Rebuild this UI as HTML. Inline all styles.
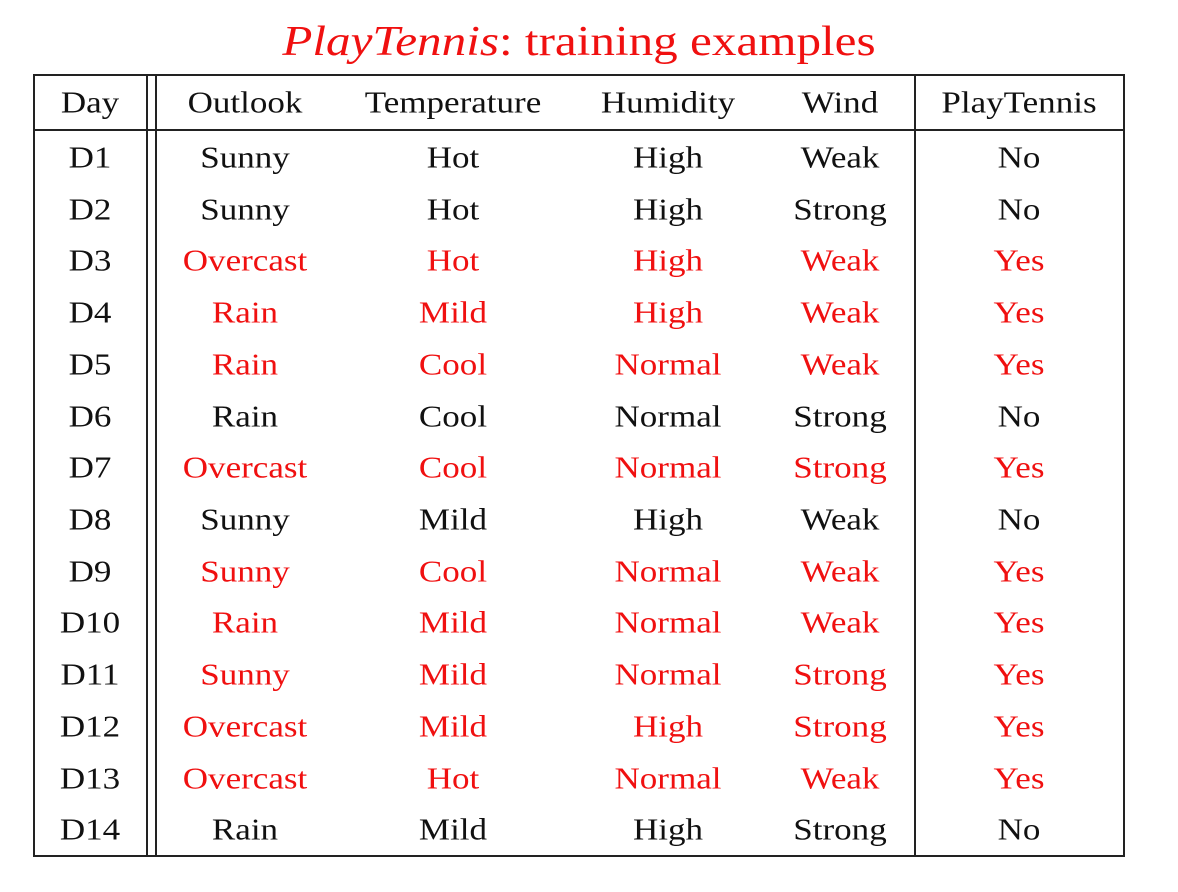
<!DOCTYPE html>
<html><head><meta charset="utf-8"><style>
body{margin:0;width:1178px;height:892px;background:#fff;position:relative;overflow:hidden;font-family:"Liberation Serif",serif;}
.l{position:absolute;background:#222;}
.t{position:absolute;transform:translate(-50%,-50%) scaleX(1.13);font-size:31px;white-space:nowrap;color:#111;line-height:1;}
.r{color:#f01010;}
</style></head><body>
<div class="t r" style="left:579px;top:42px;font-size:42px;transform:translate(-50%,-50%) scaleX(1.17);"><i>PlayTennis</i>: training examples</div>
<div class="l" style="left:33px;top:74px;width:1092px;height:2px"></div>
<div class="l" style="left:33px;top:129px;width:1092px;height:2px"></div>
<div class="l" style="left:33px;top:855px;width:1092px;height:2px"></div>
<div class="l" style="left:33px;top:74px;width:2px;height:783px"></div>
<div class="l" style="left:146px;top:74px;width:2px;height:783px"></div>
<div class="l" style="left:155px;top:74px;width:2px;height:783px"></div>
<div class="l" style="left:914px;top:74px;width:2px;height:783px"></div>
<div class="l" style="left:1123px;top:74px;width:2px;height:783px"></div>
<div class="t" style="left:90px;top:102px">Day</div>
<div class="t" style="left:245px;top:102px">Outlook</div>
<div class="t" style="left:453px;top:102px">Temperature</div>
<div class="t" style="left:668px;top:102px">Humidity</div>
<div class="t" style="left:840px;top:102px">Wind</div>
<div class="t" style="left:1019px;top:102px">PlayTennis</div>

<div class="t" style="left:90px;top:157px">D1</div><div class="t" style="left:245px;top:157px">Sunny</div><div class="t" style="left:453px;top:157px">Hot</div><div class="t" style="left:668px;top:157px">High</div><div class="t" style="left:840px;top:157px">Weak</div><div class="t" style="left:1019px;top:157px">No</div>
<div class="t" style="left:90px;top:209px">D2</div><div class="t" style="left:245px;top:209px">Sunny</div><div class="t" style="left:453px;top:209px">Hot</div><div class="t" style="left:668px;top:209px">High</div><div class="t" style="left:840px;top:209px">Strong</div><div class="t" style="left:1019px;top:209px">No</div>
<div class="t" style="left:90px;top:260px">D3</div><div class="t r" style="left:245px;top:260px">Overcast</div><div class="t r" style="left:453px;top:260px">Hot</div><div class="t r" style="left:668px;top:260px">High</div><div class="t r" style="left:840px;top:260px">Weak</div><div class="t r" style="left:1019px;top:260px">Yes</div>
<div class="t" style="left:90px;top:312px">D4</div><div class="t r" style="left:245px;top:312px">Rain</div><div class="t r" style="left:453px;top:312px">Mild</div><div class="t r" style="left:668px;top:312px">High</div><div class="t r" style="left:840px;top:312px">Weak</div><div class="t r" style="left:1019px;top:312px">Yes</div>
<div class="t" style="left:90px;top:364px">D5</div><div class="t r" style="left:245px;top:364px">Rain</div><div class="t r" style="left:453px;top:364px">Cool</div><div class="t r" style="left:668px;top:364px">Normal</div><div class="t r" style="left:840px;top:364px">Weak</div><div class="t r" style="left:1019px;top:364px">Yes</div>
<div class="t" style="left:90px;top:416px">D6</div><div class="t" style="left:245px;top:416px">Rain</div><div class="t" style="left:453px;top:416px">Cool</div><div class="t" style="left:668px;top:416px">Normal</div><div class="t" style="left:840px;top:416px">Strong</div><div class="t" style="left:1019px;top:416px">No</div>
<div class="t" style="left:90px;top:467px">D7</div><div class="t r" style="left:245px;top:467px">Overcast</div><div class="t r" style="left:453px;top:467px">Cool</div><div class="t r" style="left:668px;top:467px">Normal</div><div class="t r" style="left:840px;top:467px">Strong</div><div class="t r" style="left:1019px;top:467px">Yes</div>
<div class="t" style="left:90px;top:519px">D8</div><div class="t" style="left:245px;top:519px">Sunny</div><div class="t" style="left:453px;top:519px">Mild</div><div class="t" style="left:668px;top:519px">High</div><div class="t" style="left:840px;top:519px">Weak</div><div class="t" style="left:1019px;top:519px">No</div>
<div class="t" style="left:90px;top:571px">D9</div><div class="t r" style="left:245px;top:571px">Sunny</div><div class="t r" style="left:453px;top:571px">Cool</div><div class="t r" style="left:668px;top:571px">Normal</div><div class="t r" style="left:840px;top:571px">Weak</div><div class="t r" style="left:1019px;top:571px">Yes</div>
<div class="t" style="left:90px;top:622px">D10</div><div class="t r" style="left:245px;top:622px">Rain</div><div class="t r" style="left:453px;top:622px">Mild</div><div class="t r" style="left:668px;top:622px">Normal</div><div class="t r" style="left:840px;top:622px">Weak</div><div class="t r" style="left:1019px;top:622px">Yes</div>
<div class="t" style="left:90px;top:674px">D11</div><div class="t r" style="left:245px;top:674px">Sunny</div><div class="t r" style="left:453px;top:674px">Mild</div><div class="t r" style="left:668px;top:674px">Normal</div><div class="t r" style="left:840px;top:674px">Strong</div><div class="t r" style="left:1019px;top:674px">Yes</div>
<div class="t" style="left:90px;top:726px">D12</div><div class="t r" style="left:245px;top:726px">Overcast</div><div class="t r" style="left:453px;top:726px">Mild</div><div class="t r" style="left:668px;top:726px">High</div><div class="t r" style="left:840px;top:726px">Strong</div><div class="t r" style="left:1019px;top:726px">Yes</div>
<div class="t" style="left:90px;top:778px">D13</div><div class="t r" style="left:245px;top:778px">Overcast</div><div class="t r" style="left:453px;top:778px">Hot</div><div class="t r" style="left:668px;top:778px">Normal</div><div class="t r" style="left:840px;top:778px">Weak</div><div class="t r" style="left:1019px;top:778px">Yes</div>
<div class="t" style="left:90px;top:829px">D14</div><div class="t" style="left:245px;top:829px">Rain</div><div class="t" style="left:453px;top:829px">Mild</div><div class="t" style="left:668px;top:829px">High</div><div class="t" style="left:840px;top:829px">Strong</div><div class="t" style="left:1019px;top:829px">No</div>
</body></html>
